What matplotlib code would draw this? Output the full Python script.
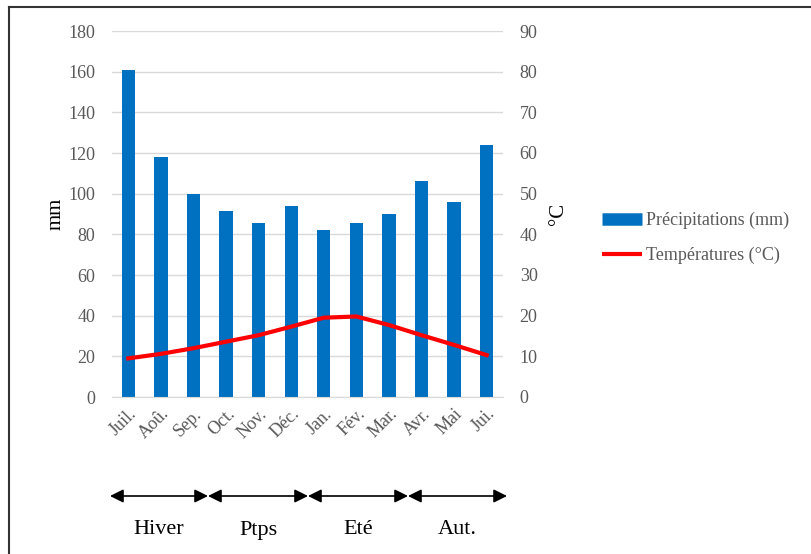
import matplotlib
matplotlib.use("Agg")
import matplotlib.pyplot as plt
from matplotlib.lines import Line2D
from matplotlib.patches import FancyArrowPatch
import numpy as np

# Data
months = ["Juil.", "Aoû.", "Sep.", "Oct.", "Nov.", "Déc.",
          "Jan.", "Fév.", "Mar.", "Avr.", "Mai", "Jui."]
precip = [161, 118, 100, 91.5, 85.5, 94, 82, 85.5, 90, 106, 96, 124]
temps = [9.5, 10.6, 12.0, 13.6, 15.2, 17.3, 19.5, 19.8, 17.7, 15.2, 12.8, 10.3]
seasons = ["Hiver", "Ptps", "Eté", "Aut."]

BLUE = "#0070C0"
RED = "#FF0000"
GREY = "#595959"

plt.rcParams['font.family'] = ['Liberation Serif', 'DejaVu Serif']

fig = plt.figure(figsize=(8.11, 5.54), dpi=100)
W, H = 811, 554
ax = fig.add_axes([112 / W, 1 - 397 / H, 391 / W, 366 / H])
ax2 = ax.twinx()

x = np.arange(len(months))
ax.bar(x, precip, width=0.41, color=BLUE, zorder=2)
ax2.plot(x, temps, color=RED, lw=3, zorder=3)

ax.set_xlim(-0.5, len(months) - 0.5)
ax.set_ylim(0, 180)
ax.set_yticks(range(0, 181, 20))
ax2.set_ylim(0, 90)
ax2.set_yticks(range(0, 91, 10))

ax.yaxis.grid(True, color="#D9D9D9", lw=1, zorder=0)
ax.set_axisbelow(True)
for a in (ax, ax2):
    for s in a.spines.values():
        s.set_visible(False)
    a.tick_params(length=0, labelsize=13, labelcolor=GREY)
ax.spines['bottom'].set_visible(True)
ax.spines['bottom'].set_color("#D9D9D9")
ax.tick_params(axis='y', pad=12)
ax2.tick_params(axis='y', pad=12)

ax.set_xticks(x)
ax.set_xticklabels(months, rotation=45, ha='right', va='top', rotation_mode='anchor')
ax.tick_params(axis='x', pad=6)

ax.set_ylabel("mm", fontsize=15, color="black", labelpad=2)
ax2.set_ylabel("°C", fontsize=15, color="black", rotation=90, labelpad=8)

# legend
handles = [Line2D([0], [0], color=BLUE, lw=9, solid_capstyle='butt'),
           Line2D([0], [0], color=RED, lw=3, solid_capstyle='butt')]
fig.legend(handles, ["Précipitations (mm)", "Températures (°C)"],
           loc='center left', bbox_to_anchor=(586 / W, 1 - 238 / H),
           frameon=False, fontsize=13, labelcolor=GREY, handlelength=2.2,
           handletextpad=0.25, labelspacing=1.0)

# season arrows under the axis
bounds = [110, 208, 308, 408, 507]
y_arr = 1 - 496 / H
for i, name in enumerate(seasons):
    x0, x1 = bounds[i] / W, bounds[i + 1] / W
    fig.patches.append(FancyArrowPatch(
        (x0, y_arr), (x1, y_arr), transform=fig.transFigure,
        arrowstyle='<|-|>', mutation_scale=20, color='black', lw=1.2,
        shrinkA=0, shrinkB=0))
    fig.text((x0 + x1) / 2, 1 - 530 / H, name, ha='center', va='center',
             fontsize=16, color='black')

# outer frame (top and left edges)
fig.add_artist(Line2D([9 / W, 1], [1 - 6.5 / H, 1 - 6.5 / H],
                      transform=fig.transFigure, color='#333333', lw=1.5))
fig.add_artist(Line2D([9 / W, 9 / W], [0, 1 - 6.5 / H],
                      transform=fig.transFigure, color='#333333', lw=1.5))

fig.savefig("out.png", dpi=100)
